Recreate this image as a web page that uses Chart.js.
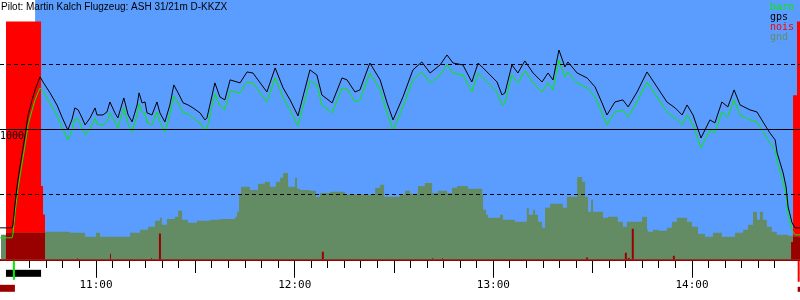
<!DOCTYPE html>
<html>
<head>
<meta charset="utf-8">
<script src="https://cdn.jsdelivr.net/npm/chart.js@4.4.1/dist/chart.umd.min.js"></script>
<style>
  html, body { margin: 0; padding: 0; background: #fff; }
  canvas { display: block; }
</style>
</head>
<body>
<canvas id="flight" width="800" height="300"></canvas>
<script>
const pilotTitle = "Pilot: Martin Kalch Flugzeug: ASH 31/21m D-KKZX";

// all times are minutes since midnight
const times = [631.0, 634.6, 634.9, 635.5, 636.4, 637.6, 638.6, 639.5, 640.7, 641.6, 642.5, 643.1, 644.0, 646.1,
  648.2, 649.7, 651.2, 651.5, 652.7, 653.6, 654.6, 655.8, 656.7, 658.2, 659.7, 660.3, 662.1, 663.3, 664.2, 665.7,
  666.6, 668.4, 669.7, 670.9, 672.4, 673.0, 673.9, 674.8, 675.4, 676.9, 678.4, 679.3, 680.8, 682.3, 683.5, 684.8,
  686.3, 687.8, 689.3, 691.4, 692.9, 693.5, 695.9, 697.4, 698.9, 700.5, 703.5, 705.6, 707.4, 711.6, 714.1, 716.5,
  718.6, 721.0, 724.6, 726.7, 728.2, 731.3, 734.3, 735.8, 738.2, 739.7, 742.7, 745.8, 747.9, 749.7, 752.7, 755.7,
  758.4, 760.9, 763.9, 766.0, 767.8, 770.8, 773.5, 775.4, 778.1, 781.1, 782.6, 783.5, 785.6, 787.4, 789.5, 792.0,
  794.7, 796.5, 798.0, 799.8, 801.6, 802.5, 805.3, 808.3, 810.7, 812.8, 814.3, 816.7, 819.1, 820.7, 823.4, 826.4,
  829.4, 832.4, 834.9, 837.0, 838.5, 840.3, 842.7, 845.4, 846.9, 849.0, 850.8, 852.7, 854.5, 857.5, 859.6, 862.0,
  863.5, 865.1, 865.7, 867.5, 868.4, 869.0, 870.2, 871.1, 872.6];
const gpsAlt = [246, 246, 269, 423, 615, 808, 962, 1115, 1231, 1308, 1369, 1408, 1369, 1285,
  1192, 1100, 1015, 1000, 1077, 1169, 1154, 1092, 1038, 1092, 1169, 1115, 1115, 1138, 1215, 1131,
  1092, 1246, 1115, 1062, 1192, 1285, 1208, 1215, 1131, 1115, 1215, 1131, 1062, 1192, 1346, 1285,
  1208, 1192, 1169, 1131, 1077, 1092, 1362, 1254, 1231, 1385, 1362, 1446, 1438, 1292, 1477, 1323,
  1231, 1108, 1462, 1423, 1269, 1208, 1400, 1385, 1292, 1308, 1515, 1385, 1208, 1077, 1254, 1462,
  1523, 1438, 1500, 1577, 1515, 1500, 1369, 1515, 1446, 1369, 1269, 1285, 1500, 1438, 1531, 1438,
  1369, 1438, 1385, 1615, 1485, 1523, 1438, 1400, 1331, 1208, 1115, 1215, 1231, 1177, 1292, 1446,
  1331, 1215, 1169, 1115, 1192, 1115, 938, 1077, 1054, 1215, 1177, 1308, 1192, 1154, 1138, 1038,
  977, 923, 823, 669, 562, 408, 285, 246, 246];
const baroAlt = [169, 169, 192, 348, 540, 731, 884, 1040, 1152, 1231, 1290, 1323, 1298, 1205,
  1115, 1021, 938, 923, 992, 1085, 1082, 1015, 962, 1010, 1092, 1046, 1038, 1062, 1131, 1062,
  1015, 1169, 1046, 985, 1115, 1200, 1138, 1131, 1054, 1040, 1138, 1062, 985, 1115, 1262, 1208,
  1131, 1123, 1092, 1054, 1000, 1008, 1277, 1185, 1154, 1300, 1285, 1369, 1362, 1215, 1400, 1246,
  1154, 1031, 1377, 1346, 1192, 1131, 1323, 1315, 1215, 1231, 1438, 1308, 1131, 1000, 1177, 1385,
  1446, 1362, 1423, 1500, 1438, 1423, 1292, 1438, 1369, 1292, 1192, 1208, 1423, 1362, 1454, 1362,
  1292, 1362, 1308, 1538, 1408, 1446, 1362, 1323, 1254, 1131, 1038, 1138, 1154, 1100, 1215, 1369,
  1254, 1138, 1092, 1038, 1115, 1038, 862, 1000, 977, 1138, 1100, 1231, 1115, 1077, 1062, 962,
  900, 846, 754, 600, 500, 346, 231, 192, 192];

// terrain under the track, stepped
const gndTimes = [631.3, 632.8, 644.6, 652.1, 656.7, 660.0, 661.2, 670.3, 673.3, 675.7, 677.8, 679.3, 679.9,
  681.4, 683.8, 684.8, 686.0, 687.8, 690.5, 694.4, 697.4, 702.0, 702.6, 703.2, 703.8, 706.5, 708.9, 711.0,
  712.5, 714.3, 715.6, 716.5, 718.0, 720.1, 720.7, 721.6, 724.6, 726.4, 727.6, 730.7, 735.2, 744.3, 745.8,
  747.0, 751.8, 753.3, 754.8, 757.2, 759.3, 761.5, 763.3, 766.0, 767.5, 769.0, 772.3, 776.6, 776.9, 777.8,
  778.4, 782.0, 782.9, 786.5, 790.1, 790.7, 792.0, 792.6, 793.5, 794.7, 795.6, 797.1, 801.0, 802.2, 805.3,
  806.8, 807.7, 808.6, 809.5, 810.1, 813.1, 814.6, 817.6, 819.1, 820.3, 824.9, 826.4, 826.7, 828.2, 829.7,
  832.4, 833.9, 835.4, 838.5, 840.0, 841.8, 843.9, 846.3, 849.0, 853.0, 855.4, 856.9, 858.4, 859.6, 860.5,
  861.4, 862.6, 864.1, 865.6, 869.0, 870.5, 872.6];
const gndAlt = [192, 208, 215, 208, 177, 208, 177, 208, 231, 254, 300, 323, 269,
  315, 331, 377, 308, 285, 300, 308, 315, 331, 369, 500, 562, 538, 585, 600,
  562, 600, 631, 669, 562, 631, 546, 538, 531, 485, 515, 523, 500, 554, 577,
  485, 500, 531, 508, 569, 592, 515, 531, 515, 554, 569, 546, 500, 385, 346,
  323, 346, 308, 292, 400, 346, 385, 346, 292, 246, 400, 431, 400, 485, 638,
  600, 485, 369, 462, 369, 323, 331, 292, 254, 292, 331, 231, 215, 231, 223,
  246, 292, 323, 292, 254, 200, 177, 208, 177, 208, 231, 269, 369, 308, 369,
  308, 254, 215, 192, 185, 177, 177];

// engine noise level, 0..100, stepped
const noiseTimes = [632.8, 643.4, 644.0, 644.6, 654.3, 654.6, 664.2, 664.5, 676.6, 676.9, 679.0, 679.6,
  728.2, 728.8, 761.5, 761.8, 764.5, 764.8, 808.0, 808.6, 819.7, 820.3, 820.6, 821.2, 821.8, 822.4,
  834.2, 834.8, 869.9, 870.5, 871.7, 872.6];
const noiseLevel = [100, 31, 19, 0, 0.6, 0, 2.5, 0, 0.6, 0, 11, 0,
  3.4, 0, 0.6, 0, 0.6, 0, 1, 0, 3, 0, 0.8, 0, 13, 0,
  1.7, 0, 7.5, 69, 100, 100];

// flight events
const skyStart = 641.6;
const takeoff = 635.2;
const towStart = 632.8;
const towEnd = 643.4;
const landing = 872.2;

const legendItems = ['baro', 'gps', 'nois', 'gnd'];

const SKY = '#5b9dfe';
const BARO = '#00ee00';
const GPS = '#000000';
const NOISE = '#ff0000';
const NOISE_DARK = '#990000';
const GND = '#648c64';
const legendColors = [BARO, GPS, NOISE, GND];

const GND_INDEX = 2;
const NOISE_INDEX = 3;

function toPoints(xs, ys) {
  return xs.map((t, i) => ({ x: t, y: ys[i] }));
}

function hhmm(v) {
  return Math.floor(v / 60) + ':' + String(v % 60).padStart(2, '0');
}

const backdrop = {
  id: 'backdrop',
  beforeDraw(chart) {
    const { ctx, chartArea: a, scales: { x } } = chart;
    ctx.save();
    ctx.fillStyle = '#ffffff';
    ctx.fillRect(0, 0, chart.width, chart.height);
    const left = x.getPixelForValue(skyStart);
    ctx.fillStyle = SKY;
    ctx.fillRect(left, a.top, a.right - left, a.bottom - a.top);
    // legend sits under the noise bars
    ctx.font = '10px "DejaVu Sans Mono"';
    ctx.textBaseline = 'middle';
    ctx.textAlign = 'left';
    legendItems.forEach((name, i) => {
      ctx.fillStyle = legendColors[i];
      ctx.fillText(name, a.right - 30, a.top + 7 + i * 10);
    });
    ctx.restore();
  }
};

// noise below the terrain line is drawn dark red
const overlap = {
  id: 'overlap',
  afterDatasetDraw(chart, args) {
    if (args.index !== GND_INDEX) return;
    const { ctx, chartArea: a } = chart;
    const gnd = chart.getDatasetMeta(GND_INDEX).dataset;
    const noise = chart.getDatasetMeta(NOISE_INDEX).dataset;
    const gp = gnd.points, np = noise.points;
    ctx.save();
    ctx.beginPath();
    ctx.rect(a.left, a.top, a.right - a.left, a.bottom - a.top);
    ctx.clip();
    ctx.beginPath();
    gnd.path(ctx);
    ctx.lineTo(gp[gp.length - 1].x, a.bottom);
    ctx.lineTo(gp[0].x, a.bottom);
    ctx.closePath();
    ctx.clip();
    ctx.beginPath();
    noise.path(ctx);
    ctx.lineTo(np[np.length - 1].x, a.bottom);
    ctx.lineTo(np[0].x, a.bottom);
    ctx.closePath();
    ctx.fillStyle = NOISE_DARK;
    ctx.fill();
    ctx.restore();
  }
};

const annotations = {
  id: 'annotations',
  afterDraw(chart) {
    const { ctx, chartArea: a, scales: { x } } = chart;
    ctx.save();
    ctx.font = '10px "Liberation Sans"';
    ctx.fillStyle = '#000';
    ctx.textBaseline = 'middle';
    ctx.textAlign = 'left';
    ctx.fillText(pilotTitle, 1, 7);

    const b = a.bottom;
    ctx.fillStyle = '#000';
    ctx.fillRect(x.getPixelForValue(towStart), b + 10, x.getPixelForValue(towEnd) - x.getPixelForValue(towStart), 7);
    ctx.fillStyle = BARO;
    ctx.fillRect(x.getPixelForValue(takeoff) - 1, b + 1, 2, 19);
    ctx.fillStyle = NOISE_DARK;
    ctx.fillRect(0, b + 25, x.getPixelForValue(takeoff) + 1, 7);
    ctx.fillStyle = NOISE;
    ctx.fillRect(x.getPixelForValue(landing) - 1, b + 1, 2, 21);
    ctx.fillStyle = NOISE_DARK;
    ctx.fillRect(x.getPixelForValue(landing) - 1, b + 27, 3, 5);
    ctx.restore();
  }
};

Chart.defaults.font.family = '"DejaVu Sans Mono"';

new Chart(document.getElementById('flight'), {
  type: 'line',
  data: {
    datasets: [
      {
        label: 'gps',
        data: toPoints(times, gpsAlt),
        borderColor: GPS,
        borderWidth: 1,
        pointRadius: 0,
        yAxisID: 'y'
      },
      {
        label: 'baro',
        data: toPoints(times, baroAlt),
        borderColor: BARO,
        borderWidth: 1,
        pointRadius: 0,
        yAxisID: 'y'
      },
      {
        label: 'gnd',
        data: toPoints(gndTimes, gndAlt),
        stepped: true,
        borderWidth: 0,
        borderColor: GND,
        backgroundColor: GND,
        fill: 'origin',
        pointRadius: 0,
        yAxisID: 'y'
      },
      {
        label: 'nois',
        data: toPoints(noiseTimes, noiseLevel),
        stepped: true,
        borderWidth: 0,
        borderColor: NOISE,
        backgroundColor: NOISE,
        fill: 'origin',
        pointRadius: 0,
        yAxisID: 'yNoise'
      }
    ]
  },
  options: {
    responsive: false,
    animation: false,
    events: [],
    layout: { autoPadding: false, padding: { left: 0, right: 0, top: 0, bottom: 7 } },
    plugins: {
      legend: { display: false },
      tooltip: { enabled: false },
      title: { display: false }
    },
    scales: {
      x: {
        type: 'linear',
        min: 631,
        max: 872.6,
        afterBuildTicks: function(scale) {
          scale.ticks = scale.ticks.filter(t => t.value % 5 === 0);
        },
        ticks: {
          stepSize: 5,
          autoSkip: false,
          maxRotation: 0,
          padding: 1,
          color: '#000',
          font: { size: 11 },
          callback: function(value) {
            return value % 60 === 0 ? hhmm(value) : '';
          }
        },
        grid: {
          drawOnChartArea: false,
          tickLength: 18,
          tickColor: '#000',
          tickWidth: 1,
          tickBorderDash: function(context) {
            const v = context.tick ? context.tick.value : 0;
            if (v % 60 === 0) return [];
            if (v % 30 === 0) return [12, 40];
            return [7, 40];
          }
        },
        border: { color: NOISE_DARK, width: 2 }
      },
      y: {
        min: 0,
        max: 2000,
        afterFit: function(scale) {
          scale.paddingTop = 0;
          scale.paddingBottom = 0;
        },
        ticks: {
          stepSize: 500,
          mirror: true,
          padding: 0,
          labelOffset: 7,
          z: 1,
          color: '#000',
          font: { size: 10 },
          callback: function(value) {
            if (value === 1000) return '1000';
            return (value === 0 || value === 2000) ? null : '';
          }
        },
        grid: {
          z: 1,
          drawTicks: false,
          lineWidth: 1,
          color: '#000'
        },
        border: {
          display: false,
          dash: function(context) {
            return context.tick && context.tick.value === 1000 ? [] : [4, 3];
          }
        }
      },
      yNoise: {
        display: false,
        min: 0,
        max: 109
      }
    }
  },
  plugins: [backdrop, overlap, annotations]
});
</script>
</body>
</html>
